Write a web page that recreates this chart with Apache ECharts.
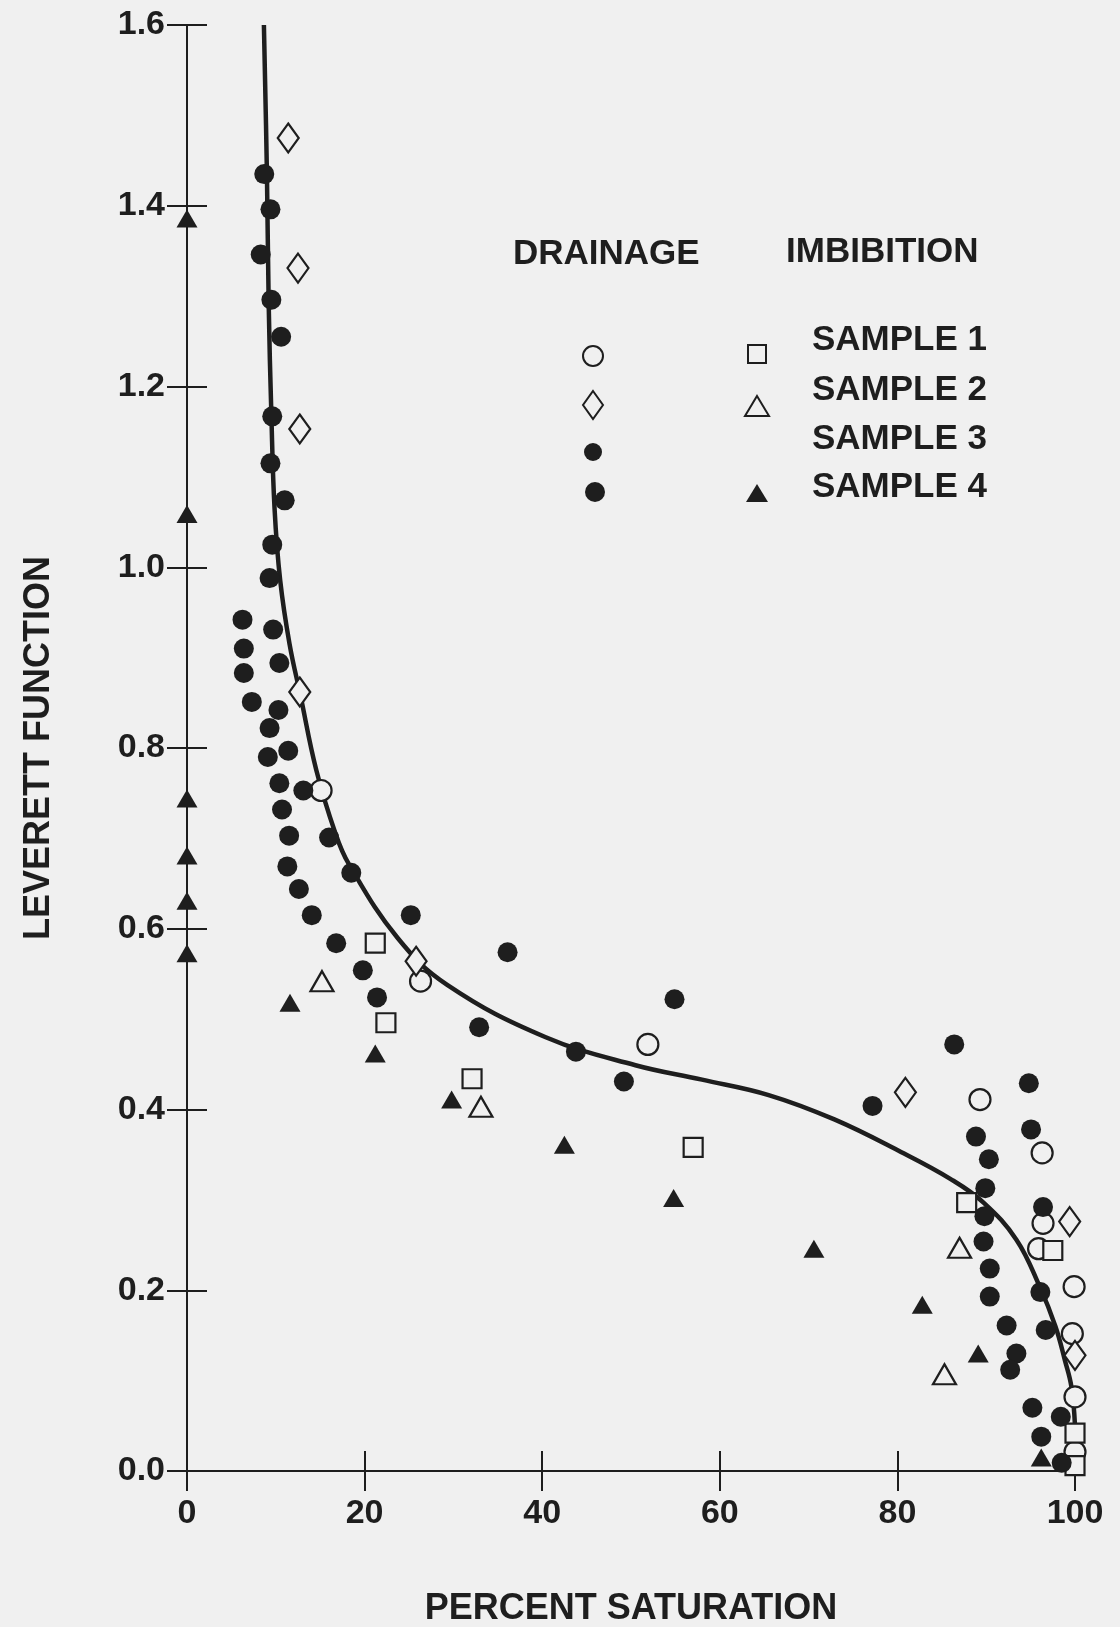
<!DOCTYPE html>
<html>
<head>
<meta charset="utf-8">
<script src="https://cdn.jsdelivr.net/npm/echarts@6/dist/echarts.min.js"></script>
<style>
html,body{margin:0;padding:0;background:#f0f0f0;}
#chart{width:1120px;height:1627px;}
</style>
</head>
<body>
<div id="chart"></div>
<script>
// ---- Data ----
const xTickValues = [0, 20, 40, 60, 80, 100];
const yTickValues = [0.0, 0.2, 0.4, 0.6, 0.8, 1.0, 1.2, 1.4, 1.6];

// Drainage, sample 1 (open circles)
const drainageSample1 = [
  [15.1, 0.753], [26.3, 0.542], [51.9, 0.472], [89.3, 0.411], [96.3, 0.352],
  [96.4, 0.274], [95.9, 0.246], [99.9, 0.204], [99.7, 0.152], [100, 0.082], [100, 0.021]
];
// Drainage, sample 2 (open diamonds)
const drainageSample2 = [
  [11.4, 1.475], [12.5, 1.331], [12.7, 1.153], [12.7, 0.862], [25.8, 0.564],
  [80.9, 0.419], [99.4, 0.276], [100, 0.128]
];
// Drainage, samples 3 and 4 (filled dots)
const drainageSamples3and4 = [
  [8.7, 1.435], [9.4, 1.396], [8.3, 1.346], [9.5, 1.296], [10.6, 1.255], [9.6, 1.167],
  [9.4, 1.115], [11.0, 1.074], [9.6, 1.025], [9.3, 0.988], [6.25, 0.942], [9.7, 0.931],
  [6.4, 0.910], [10.4, 0.894], [6.4, 0.883], [7.3, 0.851], [10.3, 0.842], [9.3, 0.822],
  [11.4, 0.797], [9.1, 0.790], [10.4, 0.761], [13.1, 0.753], [10.7, 0.732], [16.0, 0.701],
  [11.5, 0.703], [11.3, 0.669], [18.5, 0.662], [12.6, 0.644], [14.05, 0.615], [25.2, 0.615],
  [16.8, 0.584], [36.1, 0.574], [19.8, 0.554], [21.4, 0.524], [32.9, 0.491], [54.9, 0.522],
  [43.8, 0.464], [49.2, 0.431], [86.4, 0.472], [94.8, 0.429], [77.2, 0.404], [95.05, 0.378],
  [88.85, 0.370], [90.3, 0.345], [89.9, 0.313], [96.4, 0.292], [89.8, 0.282], [89.7, 0.254],
  [90.4, 0.224], [96.1, 0.198], [90.4, 0.193], [92.3, 0.161], [96.7, 0.156], [93.4, 0.130],
  [92.7, 0.112], [95.2, 0.070], [98.4, 0.060], [96.2, 0.038], [98.5, 0.009]
];
// Imbibition, sample 1 (open squares)
const imbibitionSample1 = [
  [21.2, 0.584], [22.4, 0.496], [32.1, 0.434], [57.0, 0.358], [87.8, 0.297],
  [97.5, 0.244], [100, 0.042], [100, 0.006]
];
// Imbibition, sample 2 (open triangles)
const imbibitionSample2 = [
  [15.2, 0.542], [33.1, 0.403], [87.0, 0.247], [85.3, 0.107]
];
// Imbibition, sample 4 (filled triangles)
const imbibitionSample4 = [
  [0, 1.386], [0, 1.059], [0, 0.744], [0, 0.681], [0, 0.631], [0, 0.573],
  [11.6, 0.518], [21.2, 0.462], [29.8, 0.411], [42.5, 0.361], [54.8, 0.302],
  [70.6, 0.246], [82.8, 0.184], [89.1, 0.130], [96.2, 0.015]
];
// Fitted curve
const fittedCurve = [
  [8.66, 1.60], [9.0, 1.436], [9.2, 1.291], [9.5, 1.169], [9.86, 1.065], [10.5, 0.985],
  [11.55, 0.915], [12.8, 0.857], [14.55, 0.776], [16.7, 0.706], [18.2, 0.672], [23.7, 0.590],
  [29.3, 0.538], [40.4, 0.480], [50.5, 0.449], [58.0, 0.433], [65.5, 0.416], [72.9, 0.389],
  [80.4, 0.353], [86.0, 0.323], [89.7, 0.297], [93.4, 0.256], [96.0, 0.2045], [97.8, 0.160],
  [98.85, 0.123], [99.6, 0.093], [100, 0.05]
];

const legendColumns = ['DRAINAGE', 'IMBIBITION'];
const legendRows = ['SAMPLE 1', 'SAMPLE 2', 'SAMPLE 3', 'SAMPLE 4'];

// ---- Styles ----
const INK = '#1e1e1e';
const BG = '#f0f0f0';
const FONT = '"Liberation Sans", Arial, Helvetica, sans-serif';

const chart = echarts.init(document.getElementById('chart'), null, {renderer: 'canvas'});

const axisLine = {show: true, lineStyle: {color: INK, width: 2}};
const axisTick = {show: true, inside: true, length: 20, lineStyle: {color: INK, width: 2}};
const labelStyle = {color: INK, fontSize: 34, fontWeight: 'bold', fontFamily: FONT};

function openStyle() {
  return {color: BG, borderColor: INK, borderWidth: 2.2, opacity: 1};
}

const legendGraphics = [];
function txt(text, x, y) {
  legendGraphics.push({
    type: 'text', left: x, top: y - 20, z: 10,
    style: {text: text, fill: INK, font: 'bold 35px ' + FONT}
  });
}
txt(legendColumns[0], 513, 257);
txt(legendColumns[1], 786, 255);
const rowY = [343, 393, 442, 490];
legendRows.forEach((r, i) => txt(r, 812, rowY[i]));
// legend symbols
legendGraphics.push({type: 'circle', shape: {cx: 593, cy: 356, r: 10}, style: {fill: BG, stroke: INK, lineWidth: 2}, z: 10});
legendGraphics.push({type: 'polygon', shape: {points: [[593, 391], [603, 405], [593, 419], [583, 405]]}, style: {fill: BG, stroke: INK, lineWidth: 2}, z: 10});
legendGraphics.push({type: 'circle', shape: {cx: 593, cy: 452, r: 9}, style: {fill: INK}, z: 10});
legendGraphics.push({type: 'circle', shape: {cx: 595, cy: 492, r: 10}, style: {fill: INK}, z: 10});
legendGraphics.push({type: 'rect', shape: {x: 748, y: 345, width: 18, height: 18}, style: {fill: BG, stroke: INK, lineWidth: 2}, z: 10});
legendGraphics.push({type: 'polygon', shape: {points: [[757, 396], [769, 416], [745, 416]]}, style: {fill: BG, stroke: INK, lineWidth: 2}, z: 10});
legendGraphics.push({type: 'polygon', shape: {points: [[757, 484], [768, 502], [746, 502]]}, style: {fill: INK}, z: 10});

const option = {
  backgroundColor: BG,
  animation: false,
  textStyle: {fontFamily: FONT},
  grid: {left: 187, top: 25, width: 888, height: 1446, containLabel: false, outerBoundsMode: 'none'},
  xAxis: [
    {
      type: 'value', position: 'bottom', min: 0, max: 100, interval: 20,
      axisLine: axisLine, axisTick: axisTick, splitLine: {show: false},
      axisLabel: Object.assign({margin: 26}, labelStyle),
      name: 'PERCENT SATURATION', nameLocation: 'middle', nameGap: 120,
      nameTextStyle: {color: INK, fontSize: 36, fontWeight: 'bold', fontFamily: FONT}
    },
    {
      type: 'value', position: 'top', min: 0, max: 100, interval: 20,
      axisLine: axisLine, axisTick: axisTick, splitLine: {show: false},
      axisLabel: {show: false}
    }
  ],
  yAxis: [
    {
      type: 'value', position: 'left', min: 0, max: 1.6, interval: 0.2,
      axisLine: axisLine, axisTick: axisTick, splitLine: {show: false},
      axisLabel: Object.assign({margin: 22, formatter: v => v.toFixed(1)}, labelStyle),
      name: 'LEVERETT FUNCTION', nameLocation: 'middle', nameGap: 130, nameRotate: 90,
      nameTextStyle: {color: INK, fontSize: 36, fontWeight: 'bold', fontFamily: FONT}
    },
    {
      type: 'value', position: 'right', min: 0, max: 1.6, interval: 0.2,
      axisLine: axisLine, axisTick: axisTick, splitLine: {show: false},
      axisLabel: {show: false}
    }
  ],
  graphic: legendGraphics,
  series: [
    {
      name: 'Fitted curve', type: 'line', data: fittedCurve, z: 1,
      smooth: 0.4, showSymbol: false, clip: true,
      lineStyle: {color: INK, width: 4.5}
    },
    {
      name: 'Drainage sample 1', type: 'scatter', data: drainageSample1, z: 3,
      symbol: 'circle', symbolSize: 21, itemStyle: openStyle()
    },
    {
      name: 'Drainage sample 2', type: 'scatter', data: drainageSample2, z: 3,
      symbol: 'diamond', symbolSize: [21, 29], itemStyle: openStyle()
    },
    {
      name: 'Drainage samples 3 and 4', type: 'scatter', data: drainageSamples3and4, z: 4,
      symbol: 'circle', symbolSize: 20, itemStyle: {color: INK, opacity: 1}
    },
    {
      name: 'Imbibition sample 1', type: 'scatter', data: imbibitionSample1, z: 3,
      symbol: 'rect', symbolSize: 19, itemStyle: openStyle()
    },
    {
      name: 'Imbibition sample 2', type: 'scatter', data: imbibitionSample2, z: 3,
      symbol: 'triangle', symbolSize: [23, 20], itemStyle: openStyle()
    },
    {
      name: 'Imbibition sample 4', type: 'scatter', data: imbibitionSample4, z: 4,
      symbol: 'triangle', symbolSize: [21, 18], itemStyle: {color: INK, opacity: 1}
    }
  ]
};
chart.setOption(option);
</script>
</body>
</html>
